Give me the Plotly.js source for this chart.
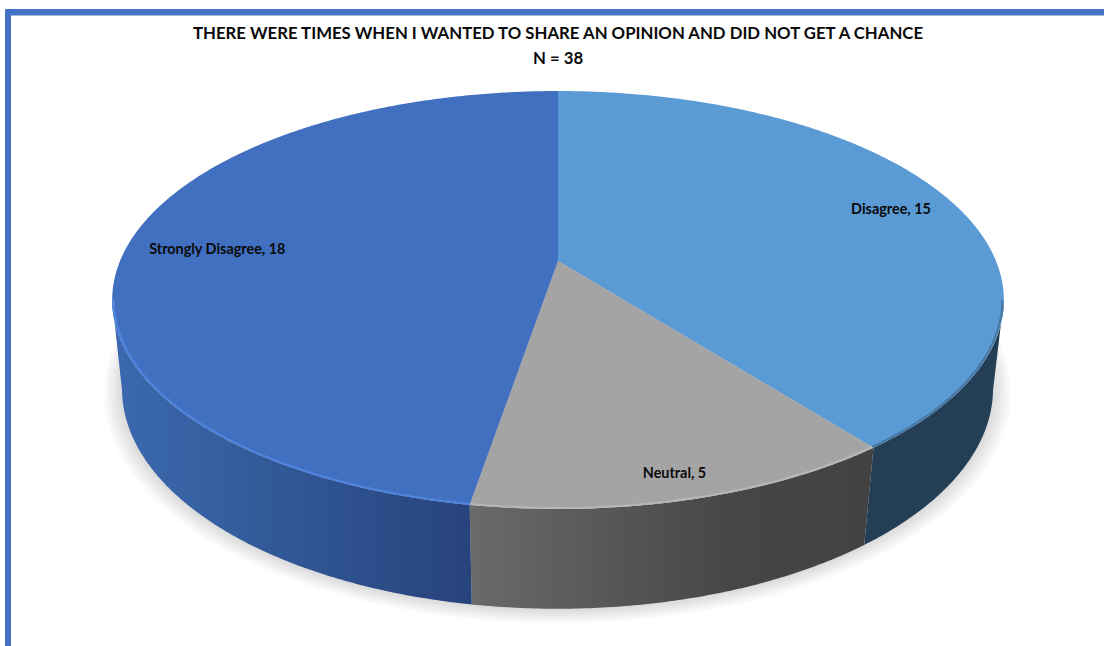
<!DOCTYPE html>
<html>
<head>
<meta charset="utf-8">
<script src="https://cdn.plot.ly/plotly-3.0.1.min.js"></script>
<style>html,body{margin:0;padding:0;background:#fff}#chart{width:1104px;height:646px}</style>
</head>
<body>
<div id="chart"></div>
<script>
// Survey responses
const categories = ['Disagree', 'Neutral', 'Strongly Disagree'];
const counts = [15, 5, 18];
const chartTitle = 'THERE WERE TIMES WHEN I WANTED TO SHARE AN OPINION AND DID NOT GET A CHANCE';

// Slice colours
const topColors = ['#5b9bd5', '#a4a4a4', '#4170c0'];
const rimColors = ['#47779f', '#b6b6b6', '#4f84de'];
const wallStops = [
  [[0, '#233e55'], [1, '#233e55']],
  [[0, '#6a6a6a'], [0.65, '#464646'], [1, '#424242']],
  [[0, '#3b68b0'], [0.3, '#355f9f'], [1, '#27437c']]
];
const labelRadius = [0.845, 0.906, 0.79];
const labelDrop = 2;

// Perspective disc: a unit circle projected onto the page; k foreshortens the far side
const topDisc = {x0: 558, y0: 261, ax: 438, ay: 201.7, k: 0.1866};
const baseDisc = {x0: 557.5, y0: 349, ax: 428.4, ay: 213, k: 0.18};

function project(disc, deg, r) {
  const t = deg * Math.PI / 180;
  const u = Math.sin(t) * r, v = Math.cos(t) * r;
  const d = 1 + disc.k * v;
  return [disc.x0 + disc.ax * u / d, disc.y0 - disc.ay * v / d];
}
function arc(disc, from, to, r) {
  const n = Math.max(2, Math.ceil(Math.abs(to - from) * 2));
  const pts = [];
  for (let i = 0; i <= n; i++) pts.push(project(disc, from + (to - from) * i / n, r === undefined ? 1 : r));
  return pts;
}
const xs = p => p.map(q => q[0]);
const ys = p => p.map(q => q[1]);

const total = counts.reduce((a, b) => a + b, 0);
const slices = [];
counts.reduce((acc, c, i) => {
  slices.push({i, from: acc / total * 360, to: (acc + c) / total * 360});
  return acc + c;
}, 0);

const traces = [];

// Soft contact shadow under the base
for (let d = 18; d >= 1; d -= 1.5) {
  const ring = arc(baseDisc, 0, 360, 1 + d / 435).map(p => [p[0], p[1] + d * 0.1]);
  traces.push({type: 'scatter', mode: 'none', x: xs(ring), y: ys(ring), fill: 'toself',
    fillcolor: 'rgba(0,0,0,0.013)', hoverinfo: 'skip', showlegend: false});
}

// Visible front walls: limits are the left and right silhouette angles of the disc
const silhouette = Math.acos(-topDisc.k) * 180 / Math.PI;
const visFrom = silhouette, visTo = 360 - silhouette;
slices.forEach(s => {
  const a = Math.max(s.from, visFrom), b = Math.min(s.to, visTo);
  if (b <= a) return;
  const poly = arc(topDisc, a, b).concat(arc(baseDisc, b, a));
  traces.push({type: 'scatter', mode: 'none', x: xs(poly), y: ys(poly), fill: 'toself',
    fillcolor: wallStops[s.i][0][1],
    fillgradient: {type: 'horizontal', colorscale: wallStops[s.i]},
    hoverinfo: 'skip', showlegend: false});
});

// Top faces
slices.forEach(s => {
  const poly = [[topDisc.x0, topDisc.y0]].concat(arc(topDisc, s.from, s.to));
  traces.push({type: 'scatter', mode: 'none', x: xs(poly), y: ys(poly), fill: 'toself',
    fillcolor: topColors[s.i], hoverinfo: 'skip', showlegend: false});
});

// Bevel highlight along the front edge of each slice
slices.forEach(s => {
  const a = Math.max(s.from, visFrom), b = Math.min(s.to, visTo);
  if (b <= a) return;
  const rim = arc(topDisc, a, b, 0.997);
  traces.push({type: 'scatter', mode: 'lines', x: xs(rim), y: ys(rim),
    line: {color: rimColors[s.i], width: 2, shape: 'linear'}, hoverinfo: 'skip', showlegend: false});
});

// Slice labels sit on each slice's mid-angle
const labelPts = slices.map(s => project(topDisc, (s.from + s.to) / 2, labelRadius[s.i]));
traces.push({type: 'scatter', mode: 'text', x: xs(labelPts), y: ys(labelPts).map(y => y + labelDrop),
  text: slices.map(s => categories[s.i] + ', ' + counts[s.i]),
  textposition: 'middle center',
  textfont: {family: 'Lato, "Open Sans", sans-serif', size: 14.4, color: '#0a0a0a', weight: 700},
  hoverinfo: 'skip', showlegend: false});

const layout = {
  width: 1104, height: 646,
  margin: {l: 0, r: 0, t: 0, b: 0},
  paper_bgcolor: '#ffffff', plot_bgcolor: '#ffffff',
  showlegend: false,
  title: {text: chartTitle, x: 558 / 1104, xanchor: 'center', y: 1 - 33 / 646, yanchor: 'middle',
    font: {family: 'Lato, "Open Sans", sans-serif', size: 16.75, color: '#0a0a0a', weight: 700}},
  annotations: [{xref: 'x', yref: 'y', x: 558, y: 57.5, text: 'N = ' + total, showarrow: false,
    font: {family: 'Lato, "Open Sans", sans-serif', size: 16.75, color: '#0a0a0a', weight: 700}}],
  xaxis: {range: [0, 1104], visible: false, fixedrange: true},
  yaxis: {range: [646, 0], visible: false, fixedrange: true},
  shapes: [
    {type: 'rect', xref: 'paper', yref: 'paper', x0: 5 / 1104, x1: 1, y0: 1 - 15.5 / 646, y1: 1 - 9 / 646,
      fillcolor: '#4472c4', line: {width: 0}},
    {type: 'rect', xref: 'paper', yref: 'paper', x0: 5 / 1104, x1: 11 / 1104, y0: 0, y1: 1 - 9 / 646,
      fillcolor: '#4472c4', line: {width: 0}}
  ]
};

Plotly.newPlot('chart', traces, layout, {displayModeBar: false, staticPlot: true});
</script>
</body>
</html>
